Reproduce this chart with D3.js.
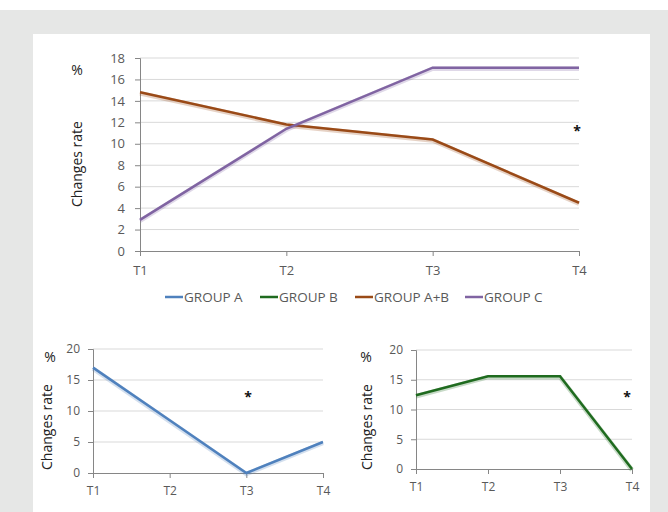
<!DOCTYPE html>
<html>
<head>
<meta charset="utf-8">
<script src="https://cdn.jsdelivr.net/npm/d3@7"></script>
<style>
  body { margin: 0; background: #fff; }
  svg { display: block; }
  text { font-family: "Open Sans", "DejaVu Sans", sans-serif; fill: #595959; }
</style>
</head>
<body>
<script>
// time points and series
var periods = ['T1', 'T2', 'T3', 'T4'];
var groupA = [17.0, 8.5, 0, 5.0];
var groupB = [12.4, 15.6, 15.6, 0];
var groupAB = [14.8, 11.8, 10.4, 4.5];
var groupC = [2.9, 11.4, 17.1, 17.1];

var topTicks = [0, 2, 4, 6, 8, 10, 12, 14, 16, 18];
var smallTicks = [0, 5, 10, 15, 20];

var legendNames = ['GROUP A', 'GROUP B', 'GROUP A+B', 'GROUP C'];
var colors = ['#4f81bd', '#1f6b1f', '#9a4a17', '#8064a2'];

var w = 668,
    h = 512;

var svg = d3.select('body')
            .append('svg')
            .attr('width', w)
            .attr('height', h);

// gray frame with white panel
svg.append('rect').attr('x', 0).attr('y', 10).attr('width', w).attr('height', h - 10)
   .attr('fill', '#e6e7e6');
svg.append('rect').attr('x', 33).attr('y', 34).attr('width', 617).attr('height', h - 34)
   .attr('fill', '#fff');

// one small line chart
function drawChart(opt) {
  var g = svg.append('g');

  var x = d3.scalePoint()
            .domain(periods)
            .range([opt.left, opt.right]);

  var y = d3.scaleLinear()
            .domain([0, d3.max(opt.ticks)])
            .range([opt.bottom, opt.top]);

  // gridlines
  g.selectAll('line.grid')
   .data(opt.ticks.slice(1))
   .enter()
   .append('line')
   .attr('x1', opt.left)
   .attr('x2', opt.right)
   .attr('y1', function(d) { return y(d); })
   .attr('y2', function(d) { return y(d); })
   .attr('stroke', '#d9d9d9')
   .attr('stroke-width', 1);

  var yAxis = g.append('g')
               .attr('transform', 'translate(' + opt.left + ',0)')
               .call(d3.axisLeft(y).tickValues(opt.ticks).tickSize(5).tickPadding(opt.yPad));

  var xAxis = g.append('g')
               .attr('transform', 'translate(0,' + opt.bottom + ')')
               .call(d3.axisBottom(x).tickSize(5).tickPadding(opt.xPad));

  [yAxis, xAxis].forEach(function(a) {
    a.select('.domain').attr('stroke', '#868686');
    a.selectAll('.tick line').attr('stroke', '#868686');
    a.selectAll('.tick text')
     .attr('fill', '#595959')
     .style('font-size', opt.fontSize + 'px');
  });

  var line = d3.line()
               .x(function(d, i) { return x(periods[i]); })
               .y(function(d) { return y(d); });

  opt.series.forEach(function(s) {
    // soft shadow under the line
    g.append('path')
     .attr('d', line(s.values))
     .attr('fill', 'none')
     .attr('stroke', s.color)
     .attr('stroke-opacity', 0.25)
     .attr('stroke-width', 4.5)
     .attr('transform', 'translate(0,1)');
    g.append('path')
     .attr('d', line(s.values))
     .attr('fill', 'none')
     .attr('stroke', s.color)
     .attr('stroke-width', 2.5);
  });

  // % label and axis title
  g.append('text')
   .attr('x', opt.pctX)
   .attr('y', opt.pctY)
   .attr('text-anchor', 'middle')
   .style('font-size', '14px')
   .style('fill', '#222')
   .text('%');

  g.append('text')
   .attr('transform', 'translate(' + opt.titleX + ',' + opt.titleY + ') rotate(-90)')
   .attr('text-anchor', 'middle')
   .style('font-size', '14px')
   .style('fill', '#222')
   .text('Changes rate');

  // asterisk
  g.append('text')
   .attr('x', opt.starX)
   .attr('y', opt.starY)
   .attr('text-anchor', 'middle')
   .style('font-size', '14px')
   .style('font-weight', 'bold')
   .style('fill', '#111')
   .text('*');
}

drawChart({
  left: 140, right: 579, top: 58, bottom: 251,
  ticks: topTicks, fontSize: 13, xPad: 10, yPad: 10,
  series: [
    { values: groupAB, color: colors[2] },
    { values: groupC, color: colors[3] }
  ],
  pctX: 77, pctY: 75, titleX: 82, titleY: 164,
  starX: 577, starY: 136
});

drawChart({
  left: 93, right: 323, top: 349, bottom: 473,
  ticks: smallTicks, fontSize: 12, xPad: 8, yPad: 8,
  series: [{ values: groupA, color: colors[0] }],
  pctX: 50, pctY: 362, titleX: 52, titleY: 427,
  starX: 248, starY: 402
});

drawChart({
  left: 416, right: 632, top: 350, bottom: 469,
  ticks: smallTicks, fontSize: 12, xPad: 8, yPad: 8,
  series: [{ values: groupB, color: colors[1] }],
  pctX: 366, pctY: 362, titleX: 372, titleY: 427,
  starX: 627, starY: 402
});

// legend of the top chart
var legendX = [165, 260, 355, 465];
var legend = svg.selectAll('g.legend')
                .data(legendNames)
                .enter()
                .append('g')
                .attr('transform', function(d, i) {
                  return 'translate(' + legendX[i] + ',297)';
                });

legend.append('line')
      .attr('x1', 0)
      .attr('x2', 18)
      .attr('stroke', function(d, i) { return colors[i]; })
      .attr('stroke-width', 2.5);

legend.append('text')
      .attr('x', 19)
      .attr('y', 5)
      .style('font-size', '13.5px')
      .text(function(d) { return d; });
</script>
</body>
</html>
